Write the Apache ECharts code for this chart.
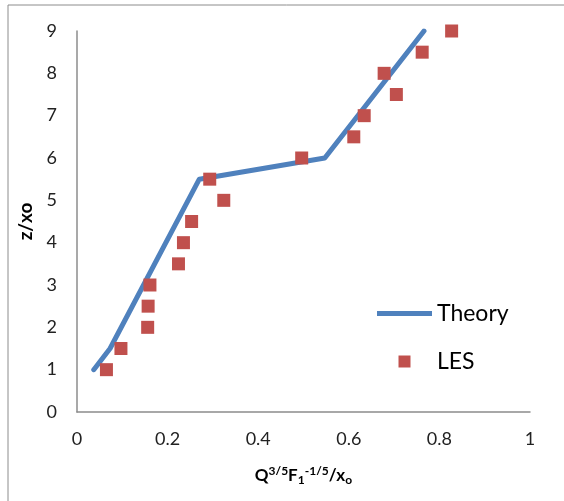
<!DOCTYPE html>
<html>
<head>
<meta charset="utf-8">
<script src="https://cdn.jsdelivr.net/npm/echarts@6/dist/echarts.min.js"></script>
<style>
  html, body { margin: 0; padding: 0; background: #fff; }
  #chart { width: 564px; height: 501px; }
</style>
</head>
<body>
<div id="chart"></div>
<script>
// Theory profile vertices (x = Q^{3/5}F1^{-1/5}/xo, z/xo)
const theoryX = [0.037, 0.073, 0.270, 0.547, 0.766];
const theoryZ = [1.0, 1.5, 5.5, 6.0, 9.0];

// LES samples
const lesX = [0.065, 0.097, 0.156, 0.157, 0.161, 0.224, 0.235, 0.253, 0.324,
              0.293, 0.496, 0.611, 0.634, 0.705, 0.678, 0.762, 0.827];
const lesZ = [1.0, 1.5, 2.0, 2.5, 3.0, 3.5, 4.0, 4.5, 5.0,
              5.5, 6.0, 6.5, 7.0, 7.5, 8.0, 8.5, 9.0];

const seriesNames = ['Theory', 'LES'];

const FONT = 'Lato';
const chart = echarts.init(document.getElementById('chart'), null, { renderer: 'canvas' });

chart.setOption({
  backgroundColor: '#fff',
  animation: false,
  graphic: [{
    type: 'rect',
    shape: { x: 8, y: 5, width: 600, height: 560 },
    style: { fill: 'none', stroke: '#8c8c8c', lineWidth: 1 },
    z: -1
  }],
  grid: { left: 77, right: 34, top: 31, bottom: 89 },
  legend: {
    orient: 'vertical',
    left: 372,
    top: 297,
    itemWidth: 55,
    itemHeight: 12,
    itemGap: 25,
    symbolKeepAspect: true,
    textStyle: { fontFamily: FONT, fontSize: 23, color: '#000' },
    data: [
      { name: seriesNames[0], icon: 'path://M0,0L55,0L55,5L0,5Z' },
      { name: seriesNames[1], icon: 'path://M0,0L1,0L1,1L0,1Z' }
    ]
  },
  xAxis: {
    type: 'value',
    min: 0, max: 1, interval: 0.2,
    name: '{b|Q}{sup|3/5}{b|F}{sub|1}{sup|-1/5}{b|/x}{sub|o}',
    nameLocation: 'middle',
    nameGap: 52,
    nameTextStyle: {
      rich: {
        b: { fontFamily: FONT, fontSize: 17, fontWeight: 'bold', color: '#000', lineHeight: 24, verticalAlign: 'middle' },
        sup: { fontFamily: FONT, fontSize: 12, fontWeight: 'bold', color: '#000', lineHeight: 24, padding: [0, 0, 9, 0], verticalAlign: 'middle' },
        sub: { fontFamily: FONT, fontSize: 12, fontWeight: 'bold', color: '#000', lineHeight: 24, padding: [9, 0, 0, 0], verticalAlign: 'middle' }
      }
    },
    axisLine: { show: true, lineStyle: { color: '#8c8c8c', width: 1.5 } },
    axisTick: { show: false },
    splitLine: { show: false },
    axisLabel: { fontFamily: FONT, fontSize: 18, color: '#222', margin: 18 }
  },
  yAxis: {
    type: 'value',
    min: 0, max: 9, interval: 1,
    name: 'z/xo',
    nameLocation: 'middle',
    nameGap: 41,
    nameTextStyle: { fontFamily: FONT, fontSize: 19, fontWeight: 'bold', color: '#000' },
    axisLine: { show: true, lineStyle: { color: '#8c8c8c', width: 1.5 } },
    axisTick: { show: false },
    splitLine: { show: false },
    axisLabel: { fontFamily: FONT, fontSize: 18, color: '#222', margin: 20 }
  },
  series: [
    {
      name: seriesNames[0],
      type: 'line',
      data: theoryX.map((x, i) => [x, theoryZ[i]]),
      showSymbol: false,
      symbol: 'none',
      lineStyle: { color: '#4F81BD', width: 5, cap: 'round', join: 'round' },
      itemStyle: { color: '#4F81BD' },
      z: 2
    },
    {
      name: seriesNames[1],
      type: 'scatter',
      data: lesX.map((x, i) => [x, lesZ[i]]),
      symbol: 'rect',
      symbolSize: 13,
      itemStyle: { color: '#C0504D', opacity: 1 },
      z: 3
    }
  ]
});
</script>
</body>
</html>
